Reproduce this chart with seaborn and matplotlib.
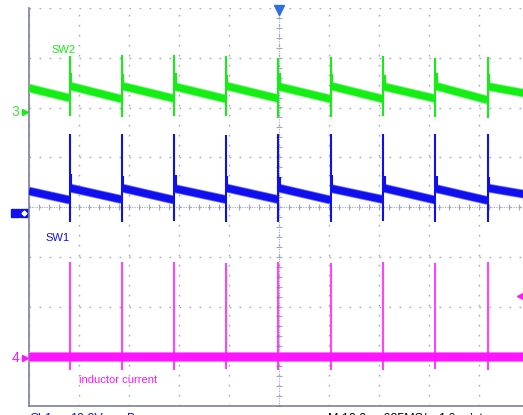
import matplotlib
matplotlib.use("Agg")
import matplotlib.pyplot as plt
import seaborn as sns
import pandas as pd
import numpy as np

# switching edges, in us (10 us/div, 10 div across)
spike_t = [8.1, 18.5, 29.0, 39.4, 49.8, 60.3, 70.8, 81.2, 91.7]
t_end = 100.0

# SW2 (ch3), values in divisions from screen centre
sw2_start, sw2_end = 2.39, 2.27
sw2_pre = [2.19, 2.17, 2.18, 2.17, 2.18, 2.17, 2.17, 2.18, 2.15]
sw2_post = [2.43, 2.43, 2.42, 2.43, 2.42, 2.43, 2.42, 2.43, 2.42]
sw2_hi = [3.04, 3.06, 3.06, 3.04, 3.00, 3.02, 3.04, 2.99, 3.02]
sw2_lo = [1.83, 1.81, 1.83, 1.83, 1.81, 1.81, 1.83, 1.81, 1.79]
sw2_ring = [2.70, 2.68, 2.70, 2.66, 2.70, 2.68, 2.66, 2.70, 2.68]

# SW1 (ch1)
sw1_start, sw1_end = 0.32, 0.24
sw1_pre = [0.14, 0.15, 0.14, 0.15, 0.15, 0.14, 0.15, 0.14, 0.13]
sw1_post = [0.38, 0.38, 0.37, 0.38, 0.38, 0.37, 0.38, 0.37, 0.38]
sw1_hi = [1.46, 1.46, 1.46, 1.45, 1.46, 1.46, 1.46, 1.46, 1.46]
sw1_lo = [-0.30, -0.30, -0.29, -0.30, -0.30, -0.30, -0.29, -0.30, -0.30]
sw1_ring = [0.66, 0.62, 0.64, 0.62, 0.60, 0.64, 0.62, 0.62, 0.60]

# inductor current (ch4)
il_level = -3.02
il_hi = [-1.11, -1.11, -1.11, -1.12, -1.11, -1.12, -1.11, -1.12, -1.11]
il_lo = [-3.28, -3.28, -3.27, -3.26, -3.28, -3.27, -3.28, -3.26, -3.28]

GREEN = "#14ee14"
GREEN_EDGE = "#8cf58c"
BLUE = "#1010ee"
BLUE_EDGE = "#7a7af5"
MAGENTA = "#ff14ff"
MAGENTA_EDGE = "#ff8cff"
GRID = "#a3a7bd"
AXIS = "#7c809c"


def band_frame(start, pre, post, end):
    rows = [(0, 0.0, start), (0, spike_t[0], pre[0])]
    for i, t in enumerate(spike_t):
        t_next = spike_t[i + 1] if i + 1 < len(spike_t) else t_end
        v_next = pre[i + 1] if i + 1 < len(spike_t) else end
        rows.append((i + 1, t + 0.15, post[i]))
        rows.append((i + 1, t_next, v_next))
    return pd.DataFrame(rows, columns=["seg", "t", "v"])


def draw_trace(df, color, edge, lw):
    # light fringe first, then the solid core
    sns.lineplot(data=df, x="t", y="v", units="seg", estimator=None, color=edge,
                 lw=lw + 1.2, solid_capstyle="butt", ax=ax, zorder=3)
    sns.lineplot(data=df, x="t", y="v", units="seg", estimator=None, color=color,
                 lw=lw, solid_capstyle="butt", ax=ax, zorder=3)


sns.set_style("white")
plt.rcParams["font.family"] = ["Liberation Sans", "DejaVu Sans"]

fig = plt.figure(figsize=(5.23, 4.15), dpi=100)
ax = fig.add_axes([29 / 523, 9 / 415, 500 / 523, 398 / 415])
ax.set_xlim(0, 100)
ax.set_ylim(-4, 4)

# graticule
ax.set_xticks(np.arange(0, 101, 10))
ax.set_yticks(np.arange(-4, 5, 1))
ax.set_xticks(np.arange(0, 101, 2), minor=True)
ax.set_yticks(np.arange(-4, 4.01, 0.2), minor=True)
ax.set_xticklabels([])
ax.set_yticklabels([])
ax.grid(True, which="major", color=GRID, lw=1.0, linestyle=(0, (1.2, 6.0)))
ax.tick_params(which="both", direction="in", length=2.2, width=0.8, color=GRID)
for s in ["top", "right"]:
    ax.spines[s].set_visible(False)
for s in ["left", "bottom"]:
    ax.spines[s].set_color(AXIS)
    ax.spines[s].set_linewidth(1.2)
ax.axvline(50, color=GRID, lw=0.8, linestyle=(0, (1, 1.2)), zorder=1)
ax.axhline(0, color=GRID, lw=0.8, linestyle=(0, (1, 1.2)), zorder=1)
ax.plot(np.full(41, 50.0), np.arange(-4, 4.01, 0.2), ls="none", marker="_",
        ms=5, mew=0.8, color=GRID, zorder=1)
ax.plot(np.arange(0, 101, 2), np.zeros(51), ls="none", marker="|",
        ms=5, mew=0.8, color=GRID, zorder=1)

# SW2
draw_trace(band_frame(sw2_start, sw2_pre, sw2_post, sw2_end), GREEN, GREEN_EDGE, 5.2)
ax.vlines(spike_t, sw2_lo, sw2_hi, color=GREEN, lw=1.5, zorder=3)
ax.vlines([t + 0.3 for t in spike_t], sw2_post, sw2_ring, color=GREEN, lw=1.5, zorder=3)

# SW1
draw_trace(band_frame(sw1_start, sw1_pre, sw1_post, sw1_end), BLUE, BLUE_EDGE, 5.2)
ax.vlines(spike_t, sw1_lo, sw1_hi, color=BLUE, lw=1.5, zorder=3)
ax.vlines([t + 0.3 for t in spike_t], sw1_post, sw1_ring, color=BLUE, lw=1.5, zorder=3)

# inductor current
il = pd.DataFrame({"seg": [0, 0], "t": [0.0, t_end], "v": [il_level, il_level]})
draw_trace(il, MAGENTA, MAGENTA_EDGE, 6.0)
ax.vlines(spike_t, il_lo, il_hi, color=MAGENTA, lw=1.5, alpha=0.8, zorder=3)

ax.set_xlabel("")
ax.set_ylabel("")

# trace labels
ax.text(4.4, 3.10, "SW2", color=GREEN, fontsize=8, va="baseline")
ax.text(3.2, -0.68, "SW1", color=BLUE, fontsize=8, va="baseline")
ax.text(10.0, -3.54, "inductor current", color=MAGENTA, fontsize=8, va="baseline")

# channel ground markers on the left, trigger markers
yax = ax.get_yaxis_transform()
ax.text(-0.027, 1.91, "3", color="#3ee63e", fontsize=10, ha="center", va="center",
        transform=yax, clip_on=False)
ax.plot([-0.008], [1.91], marker=">", ms=4, color=GREEN, transform=yax, clip_on=False)
ax.text(-0.027, -3.03, "4", color=MAGENTA, fontsize=10, ha="center", va="center",
        transform=yax, clip_on=False)
ax.plot([-0.008], [-3.03], marker=">", ms=4, color=MAGENTA, transform=yax, clip_on=False)
ax.plot([-0.028], [-0.13], marker="s", ms=5.5, color=BLUE, transform=yax, clip_on=False)
ax.plot([-0.010], [-0.13], marker="s", ms=6.3, color=BLUE, transform=yax, clip_on=False)
ax.plot([-0.010], [-0.13], marker="D", ms=2.5, color="white", transform=yax, clip_on=False)
ax.plot([50], [3.95], marker="v", ms=7, color="#2f6fe0", clip_on=False, zorder=5)
ax.plot([98.1], [-1.79], marker="<", ms=5, color=MAGENTA, clip_on=False, zorder=5)

# status line (cut off at the bottom edge, as on the scope capture)
for x, s, c in [(29, "Ch1", BLUE), (70, "10.0V", BLUE), (127, "Bw", BLUE),
                (328, "M 10.0\u00b5s 625MS/s", "black"), (438, "1.6ns/pt", "black")]:
    fig.text(x / 523, 1 - 412.5 / 415, s, color=c, fontsize=9, va="top")

fig.savefig("out.png", dpi=100)
